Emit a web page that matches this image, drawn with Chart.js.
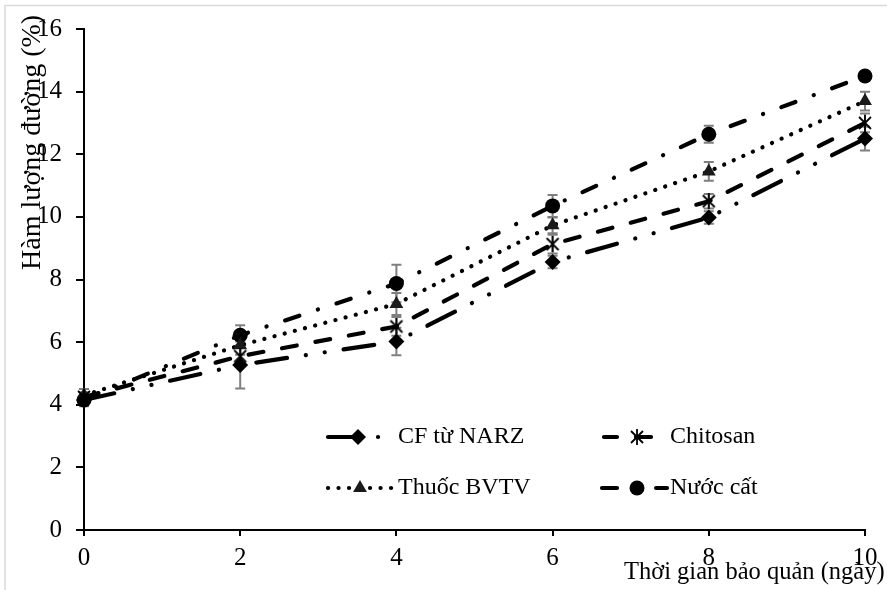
<!DOCTYPE html>
<html>
<head>
<meta charset="utf-8">
<script src="https://cdn.jsdelivr.net/npm/chart.js@4.4.0/dist/chart.umd.min.js"></script>
<style>
  html, body { margin: 0; padding: 0; background: #fff; }
  canvas { display: block; }
</style>
</head>
<body>
<canvas id="chart" width="887" height="590"></canvas>
<script>
// Số liệu
const days = [0, 2, 4, 6, 8, 10];
const cfNarz   = [4.15, 5.27, 6.02, 8.56, 9.98, 12.5];
const chitosan = [4.25, 5.55, 6.5, 9.13, 10.5, 13.0];
const thuocBvtv = [4.3, 5.9, 7.22, 9.73, 11.45, 13.7];
const nuocCat  = [4.15, 6.22, 7.87, 10.35, 12.64, 14.5];

const errCf   = [0.2, 0.75, 0.44, 0.2, 0.2, 0.38];
const errChi  = [0.15, 0.3, 0.3, 0.3, 0.23, 0.3];
const errBvtv = [0.2, 0.3, 0.35, 0.25, 0.3, 0.3];
const errNuoc = [0.15, 0.32, 0.6, 0.35, 0.27, 0.15];

const yTicks = [0, 2, 4, 6, 8, 10, 12, 14, 16];
const xTicks = [0, 2, 4, 6, 8, 10];

const FONT = 'Liberation Serif, Times New Roman, serif';

// marker hình sao cho Chitosan (X + gạch đứng)
function starMarker() {
  const c = document.createElement('canvas');
  c.width = 16; c.height = 16;
  const g = c.getContext('2d');
  g.strokeStyle = '#000';
  g.lineWidth = 1.8;
  g.beginPath();
  g.moveTo(2, 2); g.lineTo(14, 14);
  g.moveTo(14, 2); g.lineTo(2, 14);
  g.moveTo(8, 0); g.lineTo(8, 16);
  g.stroke();
  return c;
}

const toPoints = arr => arr.map((v, i) => ({ x: days[i], y: v }));

const datasets = [
  {
    label: 'CF từ NARZ', data: toPoints(cfNarz), errors: errCf,
    borderDash: [31, 19, 0.1, 19, 0.1, 19], legendOffset: 0,
    pointStyle: 'rectRot', pointRadius: 8, pointBackgroundColor: '#000'
  },
  {
    label: 'Chitosan', data: toPoints(chitosan), errors: errChi,
    borderDash: [15, 19], legendOffset: 2,
    pointStyle: starMarker(), pointRadius: 8, pointBackgroundColor: '#000'
  },
  {
    label: 'Thuốc BVTV', data: toPoints(thuocBvtv), errors: errBvtv,
    borderDash: [0.1, 10.4], legendOffset: 0,
    pointStyle: 'triangle', pointRadius: 8, pointBackgroundColor: '#1a1a1a'
  },
  {
    label: 'Nước cất', data: toPoints(nuocCat), errors: errNuoc,
    borderDash: [15, 19.5, 0.1, 19.5], legendOffset: 0,
    pointStyle: 'circle', pointRadius: 7.5, pointBackgroundColor: '#000'
  }
].map(ds => Object.assign({
  borderColor: '#000', borderWidth: 4.2, borderCapStyle: 'round',
  pointBorderColor: '#000', pointBorderWidth: 0, tension: 0, clip: false
}, ds));

// thanh sai số
const errorBars = {
  id: 'errorBars',
  beforeDatasetsDraw(chart) {
    const { ctx, scales: { x, y } } = chart;
    ctx.save();
    ctx.strokeStyle = '#7f7f7f';
    ctx.lineWidth = 2;
    chart.data.datasets.forEach(ds => {
      ds.data.forEach((p, j) => {
        const e = ds.errors[j];
        const px = x.getPixelForValue(p.x);
        const top = y.getPixelForValue(p.y + e);
        const bot = y.getPixelForValue(p.y - e);
        ctx.beginPath();
        ctx.moveTo(px, top); ctx.lineTo(px, bot);
        ctx.moveTo(px - 5, top); ctx.lineTo(px + 5, top);
        ctx.moveTo(px - 5, bot); ctx.lineTo(px + 5, bot);
        ctx.stroke();
      });
    });
    ctx.restore();
  }
};

// khung, tiêu đề trục và chú giải
const legendPos = [
  { x1: 328, x2: 388, mx: 358, tx: 398, y: 437 },
  { x1: 604, x2: 667, mx: 637, tx: 670, y: 437 },
  { x1: 328, x2: 395, mx: 360, tx: 398, y: 488 },
  { x1: 602, x2: 667, mx: 637, tx: 670, y: 488 }
];

const decorations = {
  id: 'decorations',
  afterDraw(chart) {
    const ctx = chart.ctx;
    ctx.save();
    // khung xám
    ctx.strokeStyle = '#d9d9d9';
    ctx.lineWidth = 1.5;
    ctx.beginPath();
    ctx.moveTo(5, 590); ctx.lineTo(5, 5.5); ctx.lineTo(887, 5.5);
    ctx.stroke();

    ctx.fillStyle = '#000';
    ctx.textBaseline = 'alphabetic';
    // tiêu đề trục x
    ctx.font = '24.5px ' + FONT;
    ctx.textAlign = 'left';
    ctx.fillText('Thời gian bảo quản (ngày)', 624, 579);
    // tiêu đề trục y
    ctx.save();
    ctx.font = '28px ' + FONT;
    ctx.translate(40, 270);
    ctx.rotate(-Math.PI / 2);
    ctx.fillText('Hàm lượng đường (%)', 0, 0);
    ctx.restore();

    // chú giải
    ctx.font = '24px ' + FONT;
    chart.data.datasets.forEach((ds, i) => {
      const L = legendPos[i];
      ctx.save();
      ctx.strokeStyle = '#000';
      ctx.lineWidth = 4.2;
      ctx.lineCap = 'round';
      ctx.setLineDash(ds.borderDash);
      ctx.lineDashOffset = ds.legendOffset;
      ctx.beginPath();
      ctx.moveTo(L.x1, L.y); ctx.lineTo(L.x2, L.y);
      ctx.stroke();
      ctx.restore();
      ctx.fillStyle = ds.pointBackgroundColor;
      ctx.strokeStyle = '#000';
      Chart.helpers.drawPoint(ctx, {
        pointStyle: ds.pointStyle, radius: ds.pointRadius, rotation: 0, borderWidth: 0
      }, L.mx, L.y);
      ctx.fillStyle = '#000';
      ctx.textAlign = 'left';
      ctx.textBaseline = 'middle';
      ctx.fillText(ds.label, L.tx, L.y);
    });
    ctx.restore();
  }
};

new Chart(document.getElementById('chart'), {
  type: 'line',
  data: { datasets },
  plugins: [errorBars, decorations],
  options: {
    responsive: false,
    animation: false,
    layout: { padding: { top: 20, right: 22, left: 0, bottom: 0 } },
    plugins: { legend: { display: false }, tooltip: { enabled: false } },
    scales: {
      x: {
        type: 'linear', min: 0, max: 10,
        afterBuildTicks: s => { s.ticks = xTicks.map(v => ({ value: v })); },
        afterFit: s => { s.height = 60; },
        ticks: { color: '#000', font: { family: FONT, size: 25 }, padding: 7, maxRotation: 0 },
        grid: { drawOnChartArea: false, drawTicks: true, tickLength: 6, color: '#000', lineWidth: 2 },
        border: { color: '#000', width: 2 }
      },
      y: {
        min: 0, max: 16,
        afterBuildTicks: s => { s.ticks = yTicks.map(v => ({ value: v })); },
        afterFit: s => { s.width = 84; },
        ticks: { color: '#000', font: { family: FONT, size: 25 }, padding: 14 },
        grid: { drawOnChartArea: false, drawTicks: true, tickLength: 8, color: '#000', lineWidth: 2 },
        border: { color: '#000', width: 2 }
      }
    }
  }
});
</script>
</body>
</html>
